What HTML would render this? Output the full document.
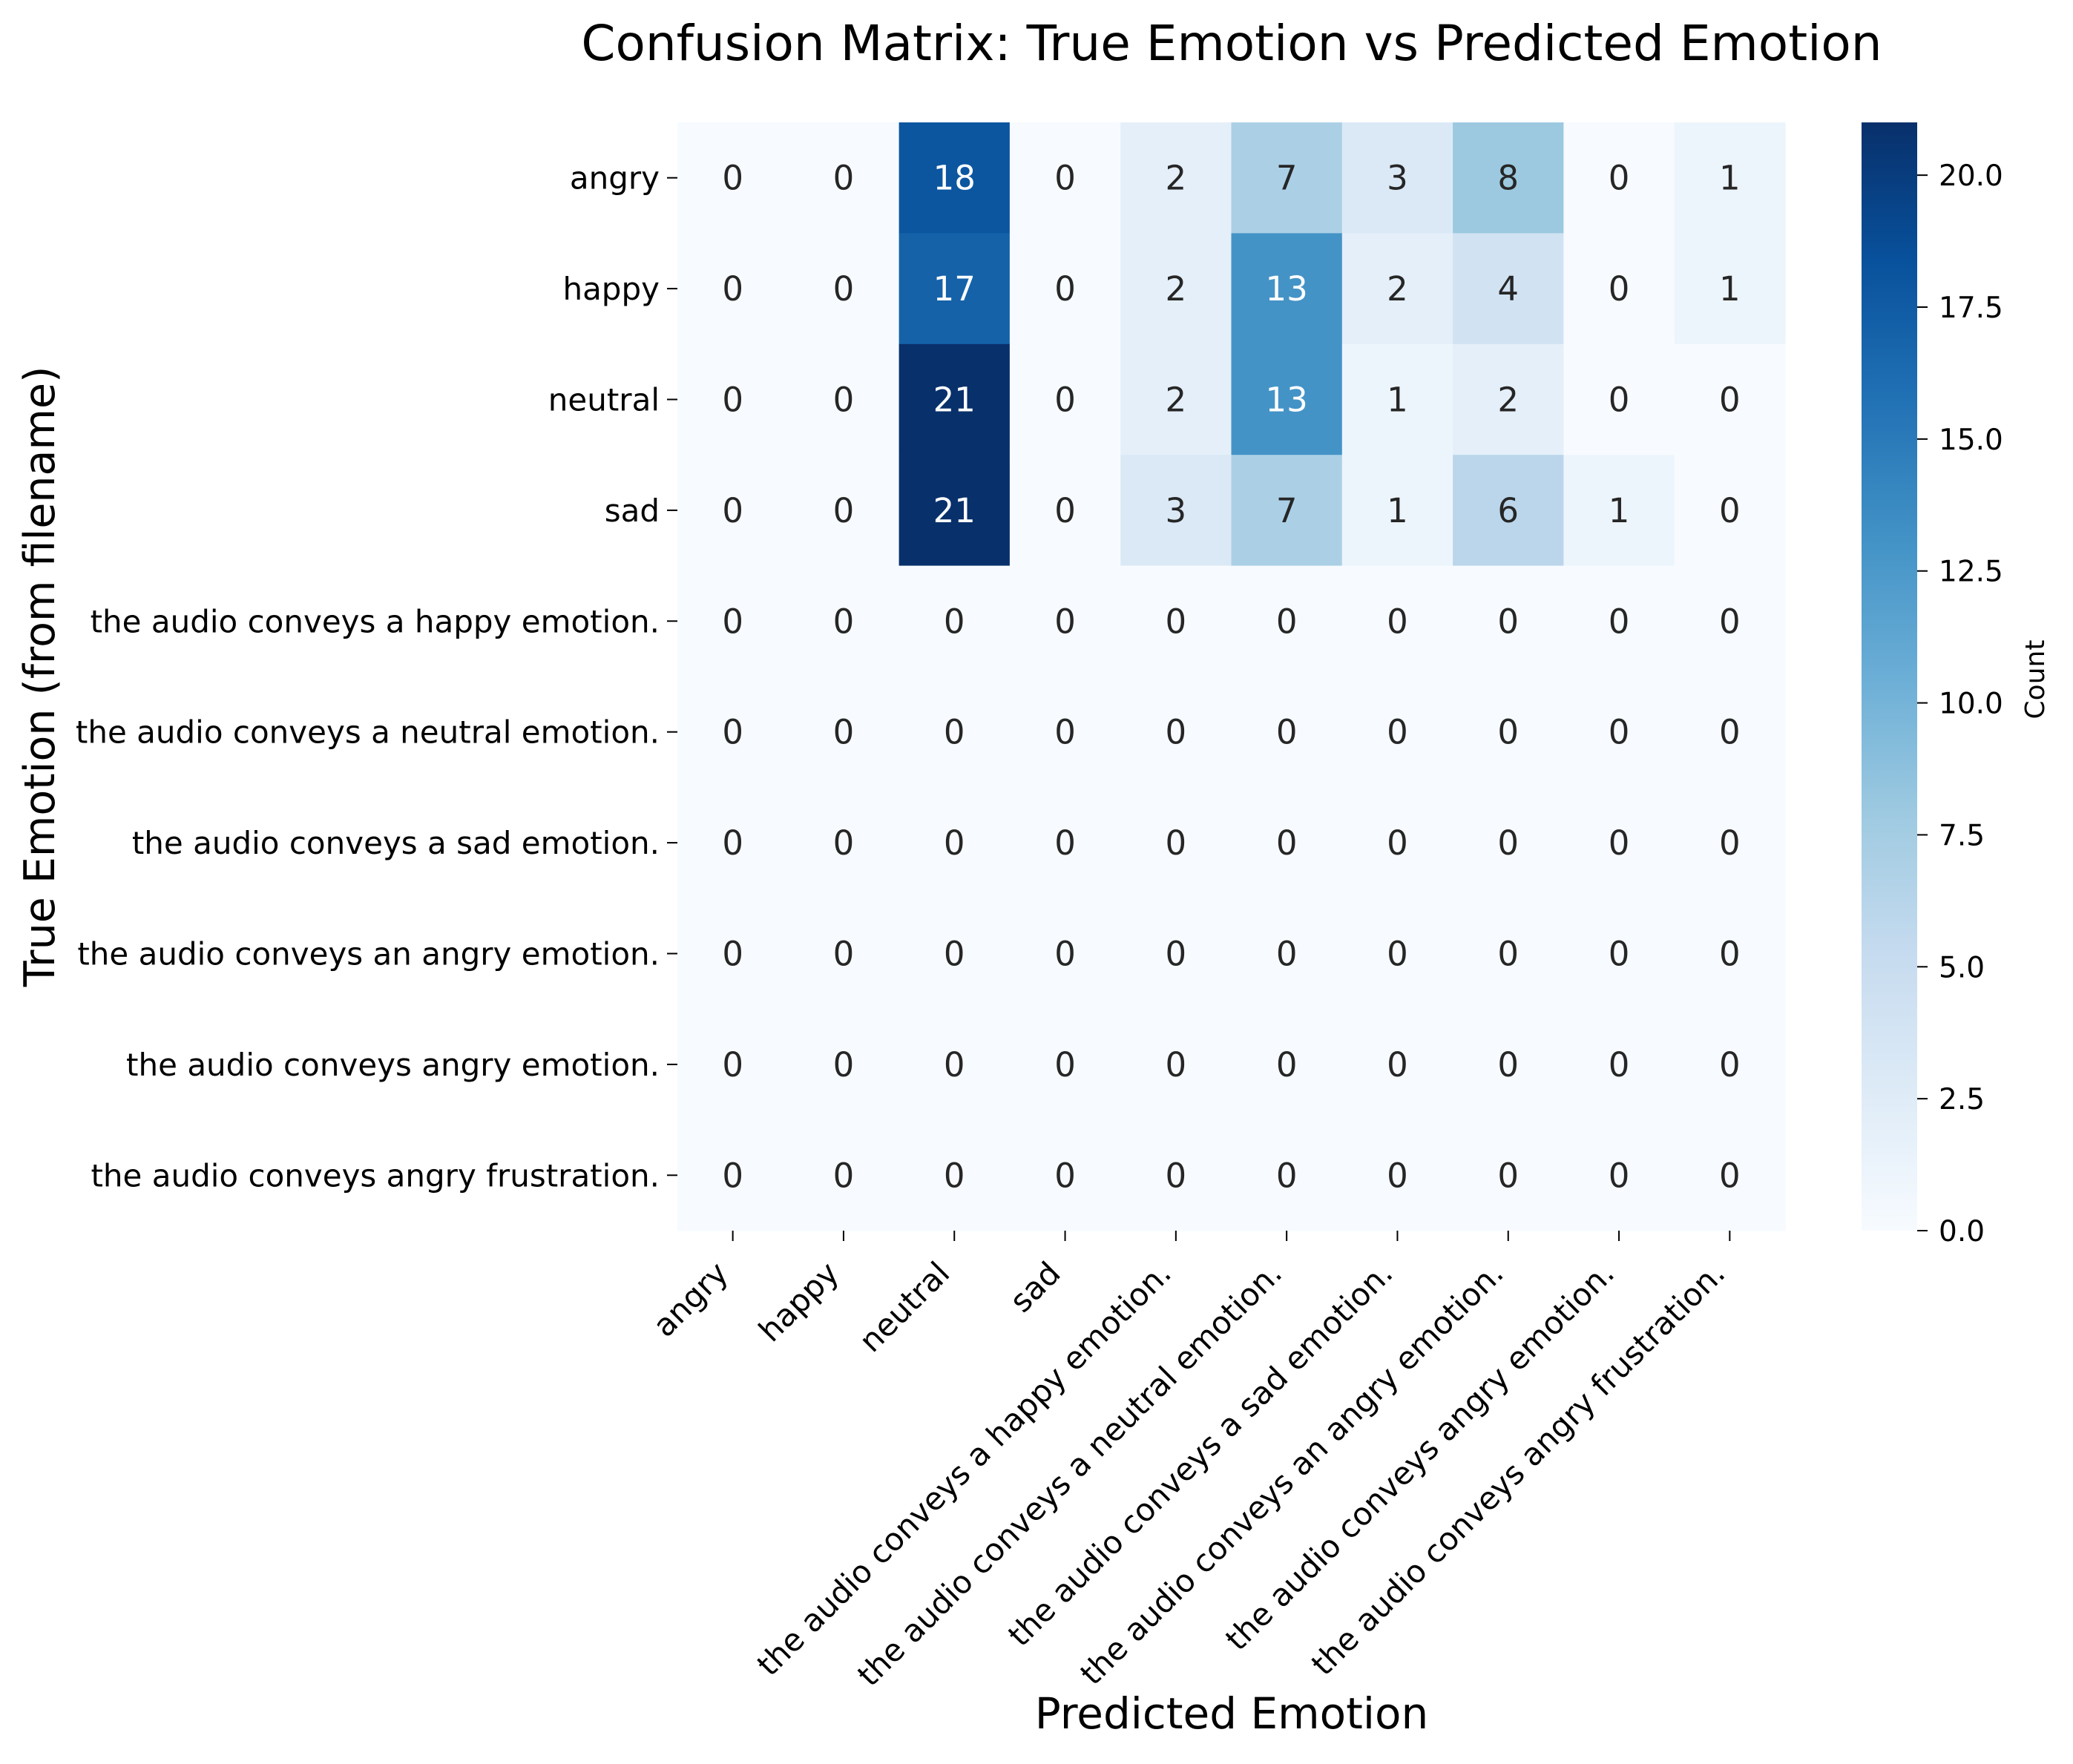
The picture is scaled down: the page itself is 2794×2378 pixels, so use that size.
<!DOCTYPE html>
<html><head><meta charset="utf-8"><style>
html,body{margin:0;padding:0;background:#fff}
svg text{font-family:"DejaVu Sans","Liberation Sans",sans-serif}
</style></head><body>
<svg id="chart" width="2794" height="2373" viewBox="0 0 2794 2373" xmlns="http://www.w3.org/2000/svg">
<defs>
<linearGradient id="cbgrad" x1="0" y1="1" x2="0" y2="0">
<stop offset="0" stop-color="#f7fbff"/><stop offset="0.125" stop-color="#deebf7"/><stop offset="0.25" stop-color="#c6dbef"/><stop offset="0.375" stop-color="#9ecae1"/><stop offset="0.5" stop-color="#6baed6"/><stop offset="0.625" stop-color="#4292c6"/><stop offset="0.75" stop-color="#2171b5"/><stop offset="0.875" stop-color="#08519c"/><stop offset="1" stop-color="#08306b"/>
</linearGradient>
</defs>
<text x="1660" y="81" font-size="66" text-anchor="middle">Confusion Matrix: True Emotion vs Predicted Emotion</text>
<g id="cells"></g>
<g id="yticks"></g>
<g id="xticks"></g>
<text transform="translate(73,912) rotate(-90)" font-size="57" text-anchor="middle">True Emotion (from filename)</text>
<text x="1660" y="2330" font-size="58" text-anchor="middle">Predicted Emotion</text>
<rect x="2509" y="165" width="75" height="1494" fill="url(#cbgrad)"/>
<g id="cbticks"></g>
<text transform="translate(2755,916) rotate(-90)" font-size="36" text-anchor="middle">Count</text>
</svg>
<script>
const labels = ["angry","happy","neutral","sad","the audio conveys a happy emotion.","the audio conveys a neutral emotion.","the audio conveys a sad emotion.","the audio conveys an angry emotion.","the audio conveys angry emotion.","the audio conveys angry frustration."];
const rowAngry   = [0,0,18,0,2,7,3,8,0,1];
const rowHappy   = [0,0,17,0,2,13,2,4,0,1];
const rowNeutral = [0,0,21,0,2,13,1,2,0,0];
const rowSad     = [0,0,21,0,3,7,1,6,1,0];
const rowZero    = [0,0,0,0,0,0,0,0,0,0];
const matrix = [rowAngry,rowHappy,rowNeutral,rowSad,rowZero,rowZero,rowZero,rowZero,rowZero,rowZero];
const vmin = 0, vmax = 21;
const cbTicks = [0,2.5,5,7.5,10,12.5,15,17.5,20];

const NS="http://www.w3.org/2000/svg";
const X0=913,X1=2406,Y0=165,Y1=1659;
const cw=(X1-X0)/labels.length, ch=(Y1-Y0)/matrix.length;
function xs(i){return X0+i*cw;}
function ys(i){return Y0+i*ch;}
function cbY(v){return Y1-(v-vmin)/(vmax-vmin)*(Y1-Y0);}
const stops=["#f7fbff","#deebf7","#c6dbef","#9ecae1","#6baed6","#4292c6","#2171b5","#08519c","#08306b"].map(h=>[parseInt(h.substr(1,2),16),parseInt(h.substr(3,2),16),parseInt(h.substr(5,2),16)]);
function color(v){let t=Math.max(0,Math.min(1,(v-vmin)/(vmax-vmin)))*8;let i=Math.min(7,Math.floor(t));let f=t-i;
 return stops[i].map((c,k)=>Math.round(c+(stops[i+1][k]-c)*f));}
function lum(c){const l=c.map(x=>{x/=255;return x<=0.03928?x/12.92:Math.pow((x+0.055)/1.055,2.4);});return 0.2126*l[0]+0.7152*l[1]+0.0722*l[2];}
function mk(tag,attrs,parent){const e=document.createElementNS(NS,tag);for(const k in attrs)e.setAttribute(k,attrs[k]);parent.appendChild(e);return e;}
const cells=document.getElementById('cells');
matrix.forEach((row,r)=>row.forEach((v,c)=>{
 const col=color(v);
 const rect=mk('rect',{x:xs(c),y:ys(r),width:cw+0.6,height:ch+0.6,fill:`rgb(${col.join(',')})`},cells);
 
 
 const t=mk('text',{x:xs(c)+cw/2,y:ys(r)+ch/2+16,'font-size':45,'text-anchor':'middle',fill:lum(col)>0.408?'#262626':'#ffffff'},cells);
 
 
 t.textContent=v;
}));
const yt=document.getElementById('yticks');
labels.forEach((l,i)=>{
 const cy=ys(i)+ch/2;
 const ln=mk('line',{x1:X0-14,x2:X0,y1:cy,y2:cy,stroke:'#000','stroke-width':2},yt);
 
 
 const t=mk('text',{x:X0-24,y:cy+15,'font-size':42,'text-anchor':'end'},yt);
 
 
 t.textContent=l;
});
const xt=document.getElementById('xticks');
labels.forEach((l,i)=>{
 const cx=xs(i)+cw/2;
 const ln=mk('line',{x1:cx,x2:cx,y1:Y1,y2:Y1+14,stroke:'#000','stroke-width':2},xt);
 
 
 const t=mk('text',{transform:`translate(${cx-4},${Y1+60}) rotate(-45)`,'font-size':42,'text-anchor':'end'},xt);
 
 
 t.textContent=l;
});
const cb=document.getElementById('cbticks');
cbTicks.forEach(v=>{
 const y=cbY(v);
 const ln=mk('line',{x1:2584,x2:2598,y1:y,y2:y,stroke:'#000','stroke-width':2},cb);
 
 
 const t=mk('text',{x:2613,y:y+14,'font-size':39},cb);
 
 
 t.textContent=v.toFixed(1);
});
</script>
</body></html>
